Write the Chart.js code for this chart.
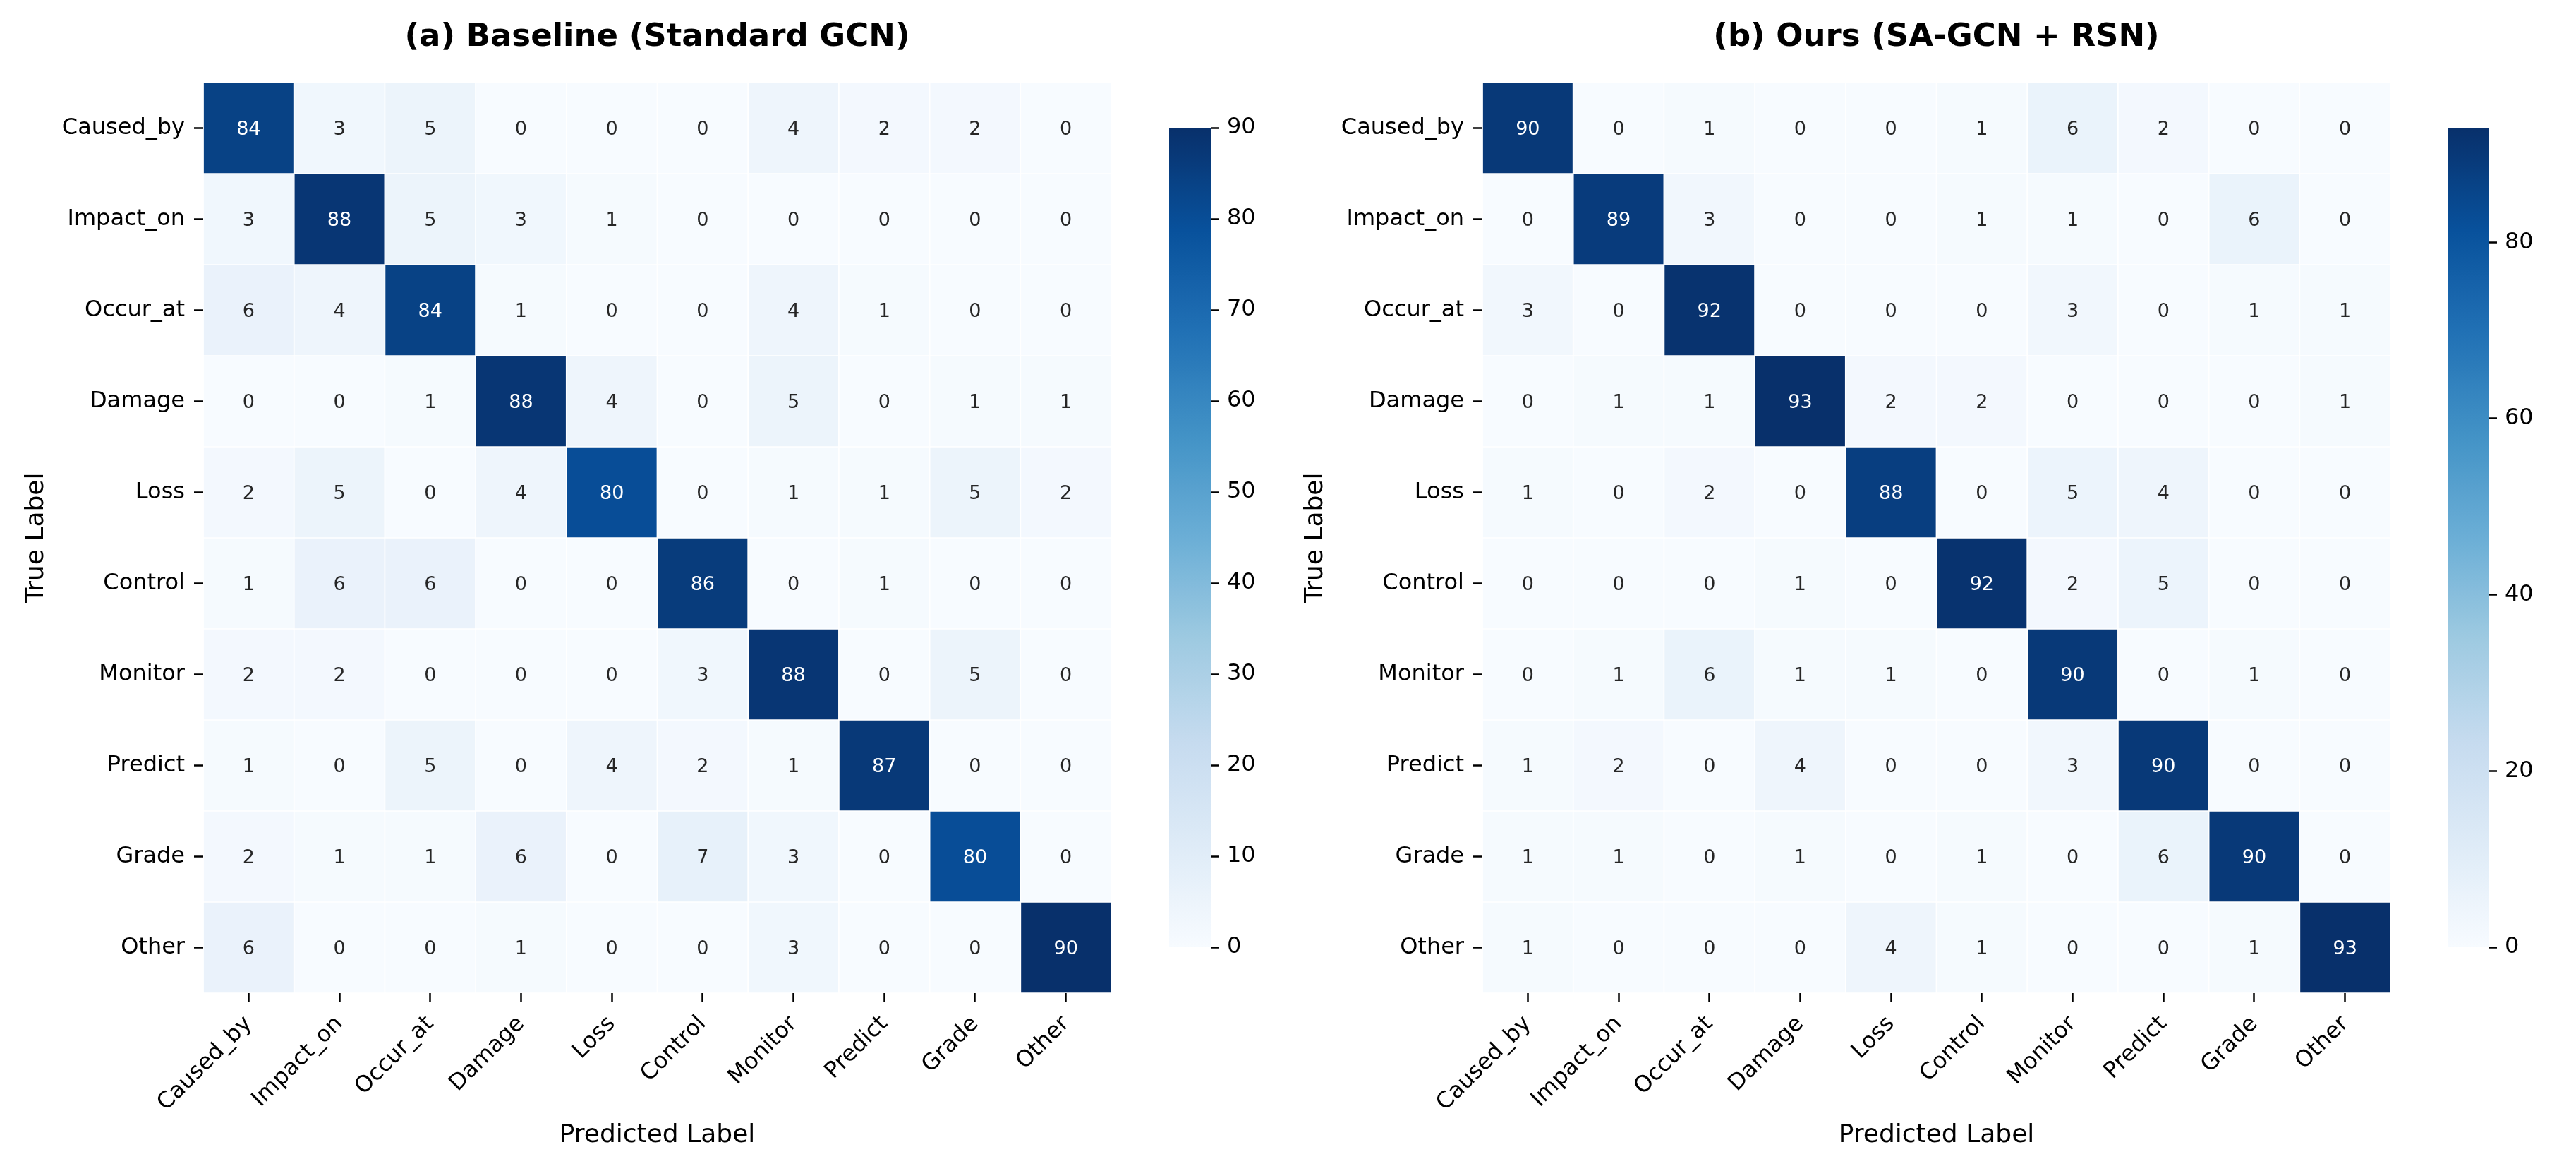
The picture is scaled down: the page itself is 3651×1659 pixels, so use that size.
<!DOCTYPE html>
<html>
<head>
<meta charset="utf-8">
<script src="https://cdn.jsdelivr.net/npm/chart.js@4.4.1/dist/chart.umd.min.js"></script>
<style>
html,body{margin:0;padding:0;background:#fff;overflow:hidden}
#wrap{position:relative;width:3651px;height:1659px;background:#fff}
canvas{position:absolute;top:0}
</style>
</head>
<body>
<div id="wrap">
<canvas id="hmA" width="1620" height="1659" style="left:0px"></canvas>
<canvas id="cbA" width="200" height="1659" style="left:1640px"></canvas>
<canvas id="hmB" width="1620" height="1659" style="left:1813px"></canvas>
<canvas id="cbB" width="198" height="1659" style="left:3453px"></canvas>
</div>
<script>
// ---------------- data ----------------
const categories = ['Caused_by','Impact_on','Occur_at','Damage','Loss','Control','Monitor','Predict','Grade','Other'];

const baselineTitle = '(a) Baseline (Standard GCN)';
const oursTitle = '(b) Ours (SA-GCN + RSN)';
const xAxisTitle = 'Predicted Label';
const yAxisTitle = 'True Label';

const baselineMatrix = [
  [84, 3, 5, 0, 0, 0, 4, 2, 2, 0],
  [ 3,88, 5, 3, 1, 0, 0, 0, 0, 0],
  [ 6, 4,84, 1, 0, 0, 4, 1, 0, 0],
  [ 0, 0, 1,88, 4, 0, 5, 0, 1, 1],
  [ 2, 5, 0, 4,80, 0, 1, 1, 5, 2],
  [ 1, 6, 6, 0, 0,86, 0, 1, 0, 0],
  [ 2, 2, 0, 0, 0, 3,88, 0, 5, 0],
  [ 1, 0, 5, 0, 4, 2, 1,87, 0, 0],
  [ 2, 1, 1, 6, 0, 7, 3, 0,80, 0],
  [ 6, 0, 0, 1, 0, 0, 3, 0, 0,90]
];

const oursMatrix = [
  [90, 0, 1, 0, 0, 1, 6, 2, 0, 0],
  [ 0,89, 3, 0, 0, 1, 1, 0, 6, 0],
  [ 3, 0,92, 0, 0, 0, 3, 0, 1, 1],
  [ 0, 1, 1,93, 2, 2, 0, 0, 0, 1],
  [ 1, 0, 2, 0,88, 0, 5, 4, 0, 0],
  [ 0, 0, 0, 1, 0,92, 2, 5, 0, 0],
  [ 0, 1, 6, 1, 1, 0,90, 0, 1, 0],
  [ 1, 2, 0, 4, 0, 0, 3,90, 0, 0],
  [ 1, 1, 0, 1, 0, 1, 0, 6,90, 0],
  [ 1, 0, 0, 0, 4, 1, 0, 0, 1,93]
];

const baselineColorbarTicks = [0,10,20,30,40,50,60,70,80,90];
const oursColorbarTicks = [0,20,40,60,80];

// ---------------- colormap (matplotlib "Blues") ----------------
const bluesStops = [
  [247,251,255],[222,235,247],[198,219,239],[158,202,225],[107,174,214],
  [66,146,198],[33,113,181],[8,81,156],[8,48,107]
];
function bluesRGB(t){
  t = Math.max(0, Math.min(1, t));
  const p = t * (bluesStops.length - 1);
  const i = Math.min(Math.floor(p), bluesStops.length - 2);
  const f = p - i;
  const a = bluesStops[i], b = bluesStops[i+1];
  return [0,1,2].map(k => a[k] + (b[k]-a[k]) * f);
}
function rgbStr(c){ return 'rgb(' + c.map(v => Math.round(v)).join(',') + ')'; }
function luminance(c){
  const lin = c.map(v => { v = v/255; return v <= 0.03928 ? v/12.92 : Math.pow((v+0.055)/1.055, 2.4); });
  return 0.2126*lin[0] + 0.7152*lin[1] + 0.0722*lin[2];
}

// ---------------- chart helpers ----------------
Chart.defaults.font.family = "'DejaVu Sans', 'Liberation Sans', sans-serif";
Chart.defaults.color = '#000';

const annotatePlugin = {
  id: 'annotate',
  afterDatasetsDraw(chart){
    const ctx = chart.ctx;
    ctx.save();
    ctx.font = "27px 'DejaVu Sans'";
    ctx.textAlign = 'center';
    ctx.textBaseline = 'middle';
    chart.data.datasets.forEach((ds, di) => {
      const meta = chart.getDatasetMeta(di);
      meta.data.forEach((el, j) => {
        const v = ds.cellValues[j];
        const c = bluesRGB(v / ds.vmax);
        ctx.fillStyle = luminance(c) > 0.408 ? '#262626' : '#ffffff';
        const p = el.getCenterPoint();
        ctx.fillText(String(v), p.x, p.y + 2);
      });
    });
    ctx.restore();
  }
};

function makeHeatmap(id, matrix, title){
  const vmax = Math.max(...matrix.flat());
  const datasets = matrix.map((row, i) => ({
    data: row.map(() => [i, i + 1]),
    cellValues: row,
    vmax: vmax,
    backgroundColor: row.map(v => rgbStr(bluesRGB(v / vmax))),
    borderColor: '#ffffff',
    borderWidth: 1.2,
    borderSkipped: false,
    barPercentage: 1,
    categoryPercentage: 1,
    grouped: false
  }));
  return new Chart(document.getElementById(id), {
    type: 'bar',
    data: { labels: categories, datasets },
    options: {
      responsive: false,
      animation: false,
      devicePixelRatio: 1,
      events: [],
      layout: { padding: { left: 0, right: 45, top: 0, bottom: 0 } },
      plugins: {
        legend: { display: false },
        tooltip: { enabled: false },
        title: {
          display: true, text: title, fullSize: false, color: '#000',
          font: { size: 45, weight: 'bold' },
          padding: { top: 26, bottom: 37 }
        }
      },
      scales: {
        x: {
          type: 'category',
          offset: true,
          grid: { display: true, drawOnChartArea: false, drawTicks: true, tickLength: 13, tickWidth: 2.5, tickColor: '#000', offset: false },
          border: { display: false },
          ticks: { autoSkip: false, maxRotation: 45, minRotation: 45, padding: 12, font: { size: 32 }, color: '#000' },
          title: { display: true, text: xAxisTitle, font: { size: 36 }, color: '#000', padding: { top: 0, bottom: 29 } },
          afterFit: s => { s.height = 252; }
        },
        y: {
          type: 'linear',
          reverse: true,
          min: 0, max: categories.length,
          grid: { display: true, drawOnChartArea: false, drawTicks: true, tickLength: 13, tickWidth: 2.5, tickColor: '#000' },
          border: { display: false },
          afterBuildTicks: s => { s.ticks = categories.map((c, i) => ({ value: i + 0.5 })); },
          ticks: { autoSkip: false, padding: 13, font: { size: 32 }, color: '#000',
                   callback: v => categories[Math.floor(v)] },
          title: { display: true, text: yAxisTitle, font: { size: 36 }, color: '#000', padding: { top: 30, bottom: 0 } },
          afterFit: s => { s.width = 288; }
        }
      }
    },
    plugins: [annotatePlugin]
  });
}

function makeColorbar(id, matrix, tickValues, barWidth){
  const vmax = Math.max(...matrix.flat());
  const canvas = document.getElementById(id);
  const axisW = canvas.width - 17 - barWidth;
  return new Chart(canvas, {
    type: 'bar',
    data: {
      labels: [''],
      datasets: [{
        data: [[0, vmax]],
        borderWidth: 0,
        barPercentage: 1,
        categoryPercentage: 1,
        backgroundColor: (ctx) => {
          const ca = ctx.chart.chartArea;
          if (!ca) return 'rgba(0,0,0,0)';
          const g = ctx.chart.ctx.createLinearGradient(0, ca.bottom, 0, ca.top);
          for (let k = 0; k <= 64; k++) {
            const t = k / 64;
            g.addColorStop(t, rgbStr(bluesRGB(t)));
          }
          return g;
        }
      }]
    },
    options: {
      responsive: false,
      animation: false,
      devicePixelRatio: 1,
      events: [],
      layout: { padding: { left: 17, right: 0, top: 181, bottom: 317 } },
      plugins: { legend: { display: false }, tooltip: { enabled: false }, title: { display: false } },
      scales: {
        x: { type: 'category', display: false },
        y: {
          type: 'linear', position: 'right',
          min: 0, max: vmax,
          grid: { display: true, drawOnChartArea: false, drawTicks: true, tickLength: 12, tickWidth: 2.5, tickColor: '#000' },
          border: { display: false },
          afterBuildTicks: s => { s.ticks = tickValues.map(v => ({ value: v })); },
          ticks: { autoSkip: false, padding: 11, font: { size: 32 }, color: '#000', callback: v => String(v) },
          afterFit: s => { s.width = axisW; }
        }
      }
    }
  });
}

makeHeatmap('hmA', baselineMatrix, baselineTitle);
makeColorbar('cbA', baselineMatrix, baselineColorbarTicks, 59);
makeHeatmap('hmB', oursMatrix, oursTitle);
makeColorbar('cbB', oursMatrix, oursColorbarTicks, 57);
</script>
</body>
</html>
